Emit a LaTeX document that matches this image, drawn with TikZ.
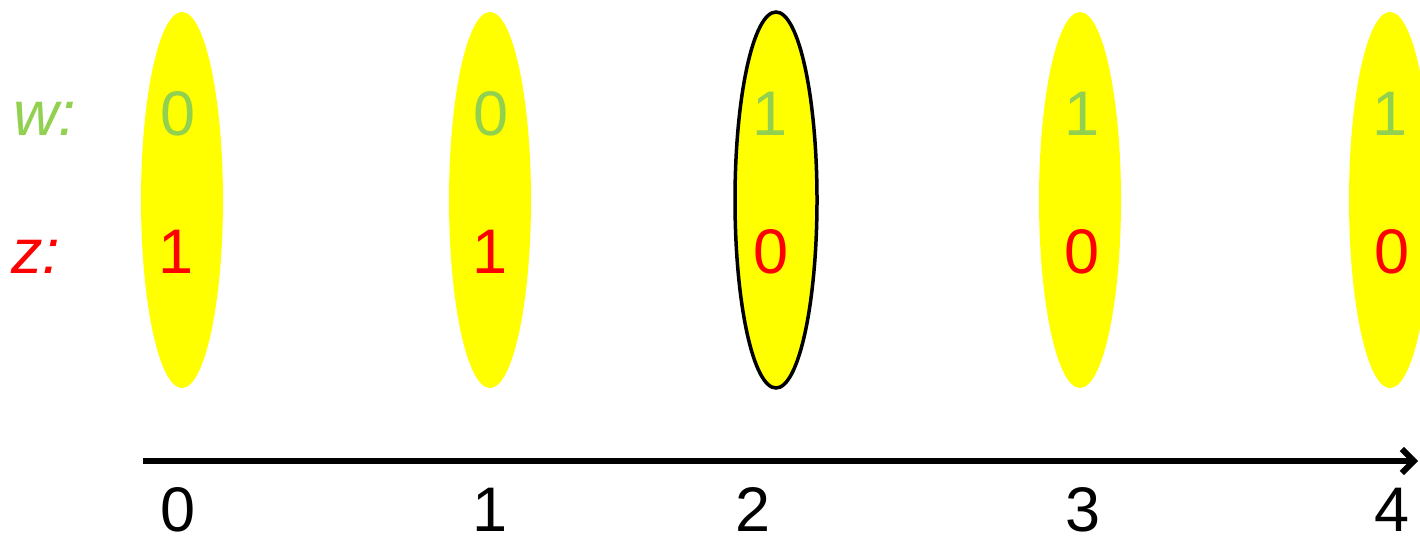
\documentclass[tikz,border=0pt]{standalone}
\usepackage{fontspec}
\setmainfont{Liberation Sans}
\usetikzlibrary{shapes.geometric, arrows.meta}
\definecolor{wgreen}{RGB}{146,208,80}
\definecolor{zred}{RGB}{255,0,0}
\definecolor{blobyellow}{RGB}{255,255,0}

\begin{document}
\begin{tikzpicture}[
      x=1pt, y=-1pt,
      blob/.style={ellipse, fill=blobyellow, inner sep=0pt,
                   minimum width=82pt, minimum height=376pt},
      picked/.style={blob, draw=black, line width=3.5pt},
      digit/.style={inner sep=0pt, anchor=base,
                    font=\fontsize{63}{70}\selectfont},
      wval/.style={digit, text=wgreen},
      zval/.style={digit, text=zred},
      arr/.style={-{Straight Barb[length=12pt, width=24pt]}, line width=6pt}
    ]
    \useasboundingbox (0,0) rectangle (1420,536);
    % the five states
    \node[blob] (s0) at (182,200) {};
    \node[blob] (s1) at (490,200) {};
    \node[picked] (s2) at (776,200) {};
    \node[blob] (s3) at (1080,200) {};
    \node[blob] (s4) at (1390,200) {};
    % row labels
    \node[digit, anchor=base west, text=wgreen, font=\fontsize{63}{70}\selectfont\itshape]
      (wlab) at (13,135) {w:};
    \node[digit, anchor=base west, text=zred, font=\fontsize{63}{70}\selectfont\itshape]
      (zlab) at (11,273) {z:};
    % values of w
    \node[wval] (w0) at (178,135) {0};
    \node[wval] (w1) at (491,135) {0};
    \node[wval] (w2) at (770,135) {1};
    \node[wval] (w3) at (1082,135) {1};
    \node[wval] (w4) at (1390,135) {1};
    % values of z
    \node[zval] (z0) at (176,273) {1};
    \node[zval] (z1) at (490,273) {1};
    \node[zval] (z2) at (771,273) {0};
    \node[zval] (z3) at (1082,273) {0};
    \node[zval] (z4) at (1392,273) {0};
    % time axis
    \coordinate (axstart) at (143,461);
    \coordinate (axend) at (1418,461);
    \draw[arr] (axstart) -- (axend);
    \node[digit] (t0) at (178,531) {0};
    \node[digit] (t1) at (490,531) {1};
    \node[digit] (t2) at (753,531) {2};
    \node[digit] (t3) at (1083,531) {3};
    \node[digit] (t4) at (1392,531) {4};
  \end{tikzpicture}
\end{document}
